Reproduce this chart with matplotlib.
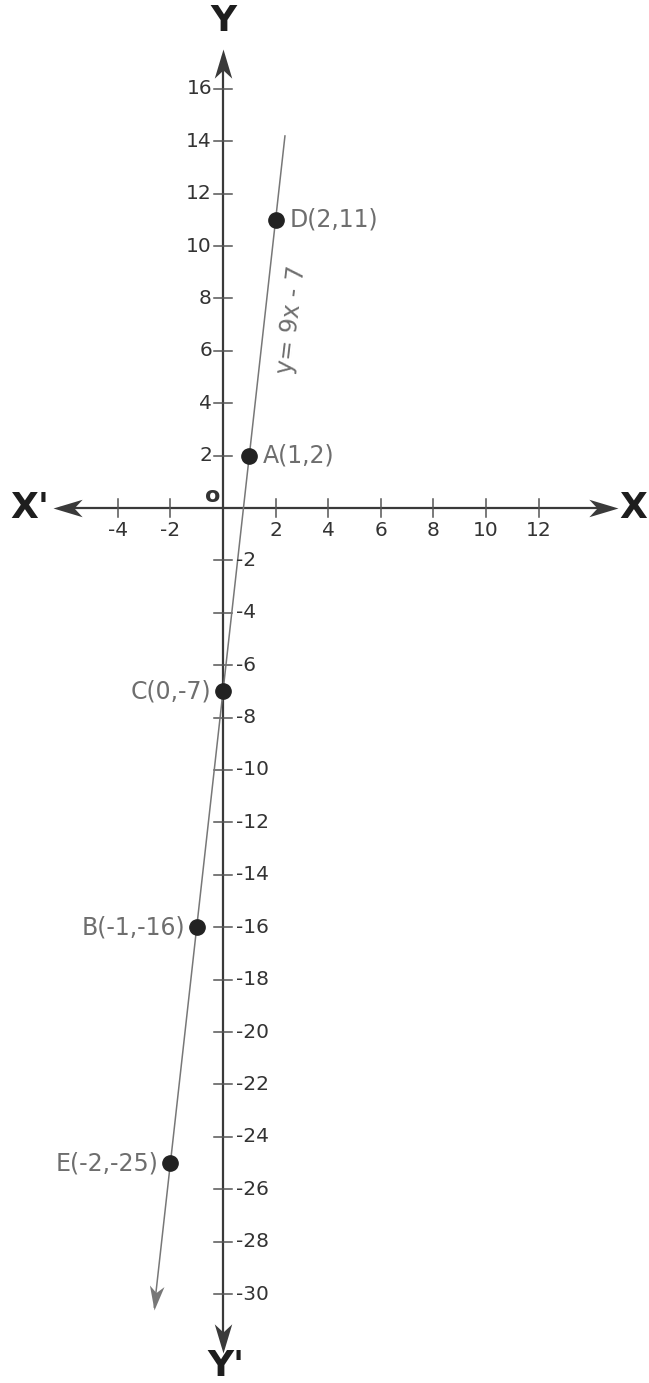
import numpy as np
import matplotlib.pyplot as plt

plt.rcParams['font.family'] = ['DejaVu Sans']

# points on y = 9x - 7
point_names = ['D', 'A', 'C', 'B', 'E']
point_x = [2, 1, 0, -1, -2]
point_y = [11, 2, -7, -16, -25]
label_side = ['right', 'right', 'left', 'left', 'left']

x_ticks = [-4, -2, 2, 4, 6, 8, 10, 12]
y_ticks = [16, 14, 12, 10, 8, 6, 4, 2, -2, -4, -6, -8, -10, -12, -14,
           -16, -18, -20, -22, -24, -26, -28, -30]

slope, intercept = 9, -7
line_top, line_bottom = 14.2, -30.6

axis_col = '#3a3a3a'
tick_col = '#555555'
text_col = '#333333'
label_col = '#6e6e6e'
line_col = '#777777'


def arrow_head(ax, x, y, angle, size, color):
    # barbed head, tip sitting on (x, y), pointing along angle (degrees)
    head = np.array([[0, 0], [-1, 0.3], [-0.72, 0], [-1, -0.3], [0, 0]])
    a = np.radians(angle)
    rot = np.array([[np.cos(a), -np.sin(a)], [np.sin(a), np.cos(a)]])
    verts = head @ rot.T
    ax.plot([x], [y], marker=verts, markersize=size, color=color,
            markeredgewidth=0, zorder=4)


fig = plt.figure(figsize=(6.49, 13.83), dpi=100)
ax = fig.add_axes([0, 0, 1, 1])
ax.set_xlim(-223 / 26.3, 426 / 26.3)
ax.set_ylim(-875 / 26.2, 508 / 26.2)
ax.axis('off')

# axes with arrows at both ends
x_left, x_right = -6.45, 15.0
y_top, y_bot = 17.5, -32.25
ax.plot([x_left + 0.3, x_right - 0.3], [0, 0], color=axis_col, lw=1.6)
ax.plot([0, 0], [y_bot + 0.3, y_top - 0.3], color=axis_col, lw=1.6)
arrow_head(ax, x_right, 0, 0, 42, axis_col)
arrow_head(ax, x_left, 0, 180, 42, axis_col)
arrow_head(ax, 0, y_top, 90, 42, axis_col)
arrow_head(ax, 0, y_bot, -90, 42, axis_col)

tx = 0.36
ty = 0.35
for v in x_ticks:
    ax.plot([v, v], [-ty, ty], color=tick_col, lw=1.1)
    ax.text(v, -0.85, str(v), ha='center', va='center', fontsize=14.5,
            color=text_col)
for v in y_ticks:
    ax.plot([-tx, tx], [v, v], color=tick_col, lw=1.1)
    if v > 0:
        ax.text(-0.42, v, str(v), ha='right', va='center', fontsize=14.5,
                color=text_col)
    else:
        ax.text(0.5, v, str(v), ha='left', va='center', fontsize=14.5,
                color=text_col)

ax.text(-0.38, 0.45, 'o', ha='center', va='center', fontsize=16,
        fontweight='bold', color=text_col)
big = dict(fontsize=26, fontweight='bold', color='#1e1e1e', va='center')
ax.text(x_right + 0.6, 0, 'X', ha='center', **big)
ax.text(x_left - 0.9, 0, "X'", ha='center', **big)
ax.text(0, y_top + 1.1, 'Y', ha='center', **big)
ax.text(0.1, y_bot - 0.5, "Y'", ha='center', **big)

# the line y = 9x - 7
x1 = (line_top - intercept) / slope
x2 = (line_bottom - intercept) / slope
ang = np.degrees(np.arctan2((line_bottom - line_top) * 26.2, (x2 - x1) * 26.3))
ax.plot([x1, x2 - 0.1 * np.cos(np.radians(ang))],
        [line_top, line_bottom - 0.1 * np.sin(np.radians(ang))],
        color=line_col, lw=1.1)
arrow_head(ax, x2, line_bottom, ang, 36, line_col)

ax.plot(point_x, point_y, 'o', color='#222222', markersize=11, zorder=5)
for name, px, py, side in zip(point_names, point_x, point_y, label_side):
    txt = f'{name}({px},{py})'
    if side == 'right':
        ax.text(px + 0.52, py, txt, ha='left', va='center', fontsize=17,
                color=label_col)
    else:
        ax.text(px - 0.45, py, txt, ha='right', va='center', fontsize=17,
                color=label_col)

ax.text(2.62, 7.2, 'y= 9x - 7', rotation=83.3, ha='center', va='center',
        fontsize=17, color=label_col, rotation_mode='anchor')

fig.savefig('out.png', dpi=100)
